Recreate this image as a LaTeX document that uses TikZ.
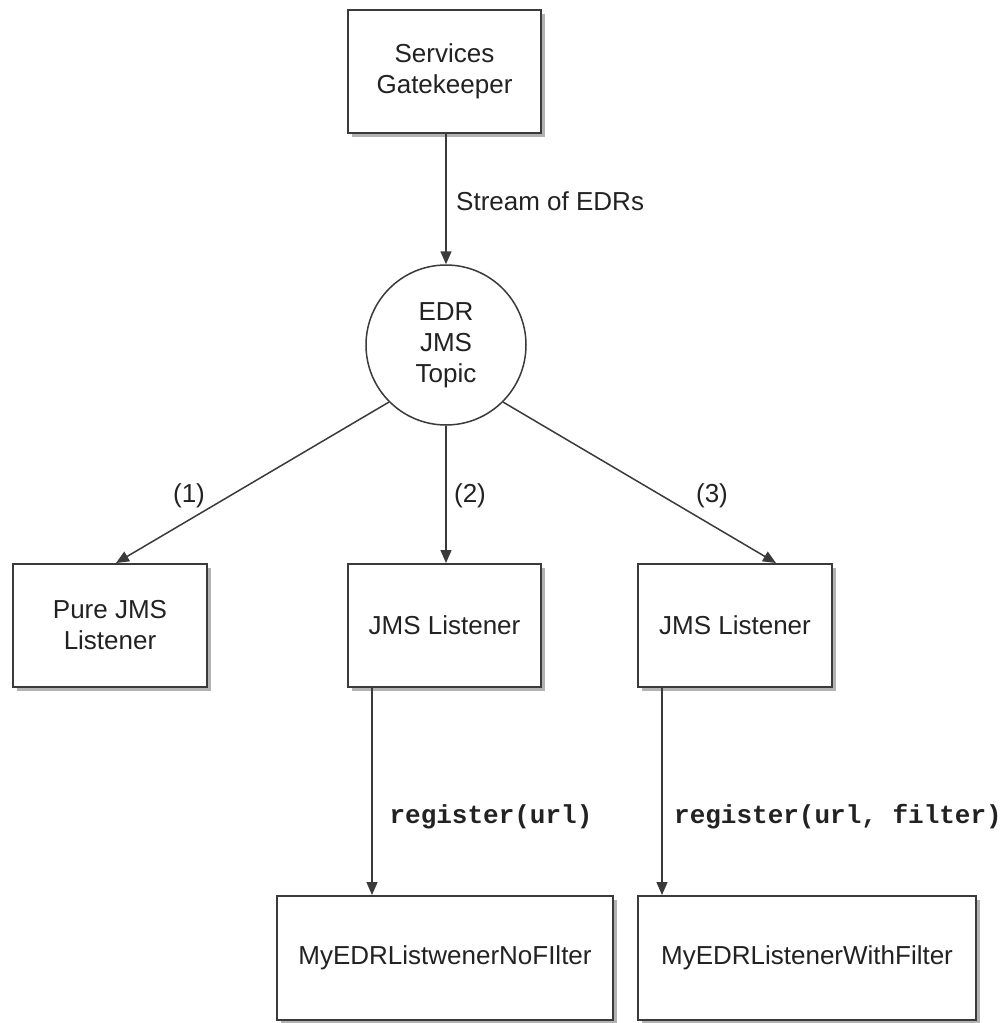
\documentclass[tikz,border=0pt]{standalone}
\usepackage{fontspec}
\setmainfont{Liberation Sans}
\setmonofont{Liberation Mono}
\usetikzlibrary{arrows.meta,shadows,calc}
\definecolor{boxline}{HTML}{3A3A3A}
\definecolor{txt}{HTML}{222222}
\begin{document}
\begin{tikzpicture}[x=1pt,y=-1pt,
  box/.style={draw=boxline, line width=2pt, fill=white, align=center, inner sep=0pt,
    text=txt, font=\fontsize{26}{31}\selectfont,
    drop shadow={shadow xshift=4pt, shadow yshift=-4pt, fill=black, opacity=0.3}},
  topicnode/.style={circle, draw=boxline, line width=1.5pt, fill=white, inner sep=0pt,
    minimum size=160pt, align=center, text=txt, font=\fontsize{26}{31}\selectfont},
  arr/.style={draw=boxline, line width=1.5pt, -{Triangle[length=13pt,width=11pt]}},
  lbl/.style={inner sep=0pt, text=txt, font=\fontsize{26}{31}\selectfont},
  codelbl/.style={inner sep=0pt, text=txt, font=\fontsize{26}{31}\selectfont\ttfamily\bfseries}]
\useasboundingbox (0,0) rectangle (1008,1023);

\node[box, minimum width=193pt, minimum height=123pt] (gk) at (444.5,71.5) {Services\\Gatekeeper};
\node[topicnode] (topic) at (446,345) {EDR\\JMS\\Topic};

\node[box, minimum width=194pt, minimum height=123pt] (pure) at (110,625.5) {Pure JMS\\Listener};
\node[box, minimum width=193pt, minimum height=123pt] (jms2) at (444.5,625.5) {JMS Listener};
\node[box, minimum width=194pt, minimum height=123pt] (jms3) at (735,625.5) {JMS Listener};

\node[box, minimum width=336pt, minimum height=124pt] (nofilter) at (445,958) {MyEDRListwenerNoFIlter};
\node[box, minimum width=338pt, minimum height=124pt] (withfilter) at (807,958) {MyEDRListenerWithFilter};

\draw[arr] (topic.north |- gk.south) -- (topic.north);
\node[lbl, anchor=west] (stream) at (456,201) {Stream of EDRs};

\draw[arr] (topic.225) -- ($(pure.north)+(6,0)$);
\draw[arr] (topic.south) -- (topic.south |- jms2.north);
\draw[arr] (topic.-45) -- ($(jms3.north)+(41,0)$);

\node[lbl] (l1) at (189,496) {(1)};
\node[lbl] (l2) at (470,496) {(2)};
\node[lbl] (l3) at (712,496) {(3)};

\coordinate (s2) at ($(jms2.south west)+(25,0)$);
\coordinate (s3) at ($(jms3.south west)+(25,0)$);
\draw[arr] (s2) -- (s2 |- nofilter.north);
\draw[arr] (s3) -- (s3 |- withfilter.north);

\node[codelbl] (r1) at (491,817) {register(url)};
\node[codelbl] (r2) at (838,817) {register(url, filter)};
\end{tikzpicture}
\end{document}
